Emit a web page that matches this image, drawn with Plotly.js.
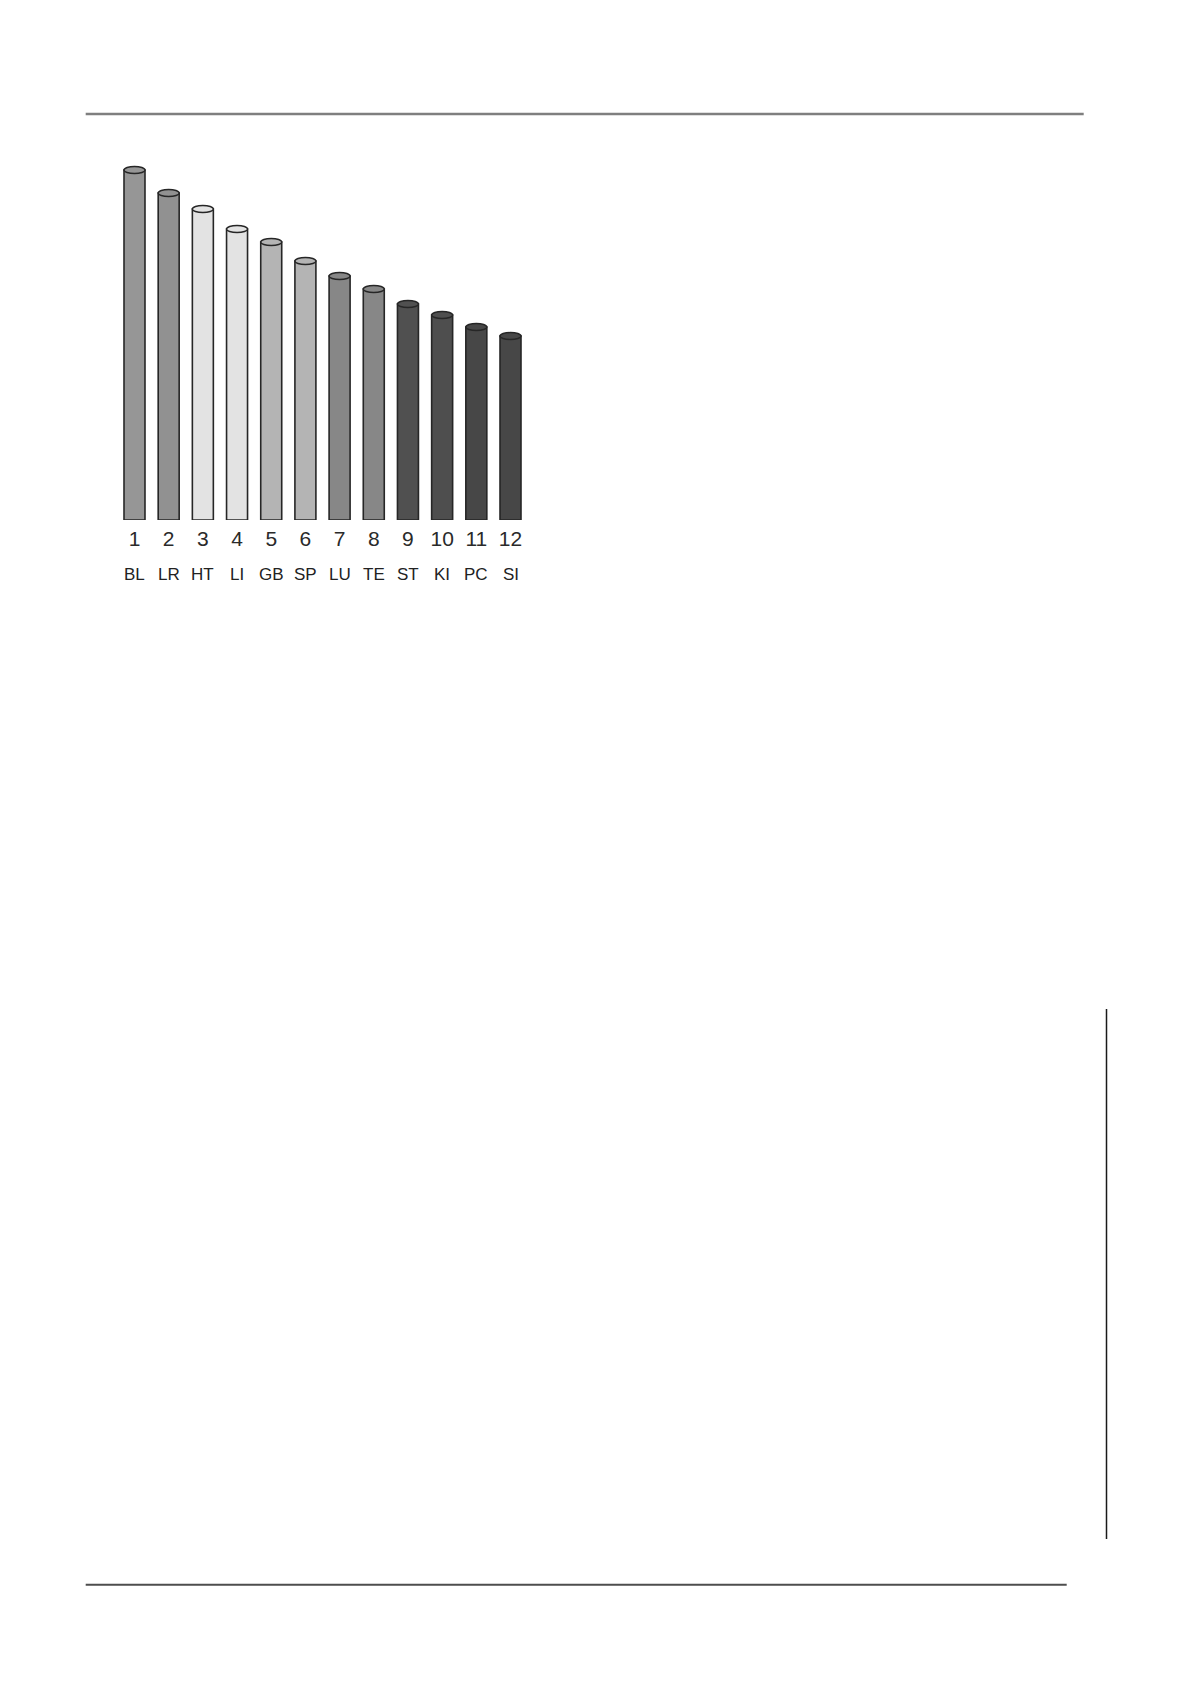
<!DOCTYPE html>
<html>
<head>
<meta charset="utf-8">
<script src="https://cdn.plot.ly/plotly-3.0.1.min.js"></script>
<style>html,body{margin:0;padding:0;background:#ffffff;}</style>
</head>
<body>
<div id="chart" style="width:1197px;height:1693px;"></div>
<script>
// ---- data ----
const ranks = [1, 2, 3, 4, 5, 6, 7, 8, 9, 10, 11, 12];
const rankLabels = ['1', '2', '3', '4', '5', '6', '7', '8', '9', '10', '11', '12'];
const codes = ['BL', 'LR', 'HT', 'LI', 'GB', 'SP', 'LU', 'TE', 'ST', 'KI', 'PC', 'SI'];
const values = [350, 327, 311, 291, 278, 259, 244, 231, 216, 205, 193, 184];

// ---- styles ----
const barColors = ['#969696', '#919191', '#e3e3e3', '#e3e3e3', '#b4b4b4', '#b4b4b4',
                   '#878787', '#878787', '#505050', '#4e4e4e', '#474747', '#474747'];
const W = 1197, H = 1693;
const px = x => x / W;
const py = y => 1 - y / H;
const barWidth = 0.614;
const capHalf = 3.5;
const outline = '#262626';
const fontFam = 'Liberation Sans, Arial, sans-serif';

const trace = {
  type: 'bar',
  x: ranks,
  y: values,
  width: barWidth,
  marker: { color: barColors, line: { color: outline, width: 1.6 } },
  hoverinfo: 'skip'
};

const shapes = [];
// cylinder tops
ranks.forEach((r, i) => {
  shapes.push({
    type: 'circle', xref: 'x', yref: 'y', layer: 'above',
    x0: r - barWidth / 2, x1: r + barWidth / 2,
    y0: values[i] - capHalf, y1: values[i] + capHalf,
    fillcolor: barColors[i], line: { color: outline, width: 1.4 }
  });
});
// page rules
shapes.push({ type: 'line', xref: 'paper', yref: 'paper', x0: px(85.7), x1: px(1083.7), y0: py(114), y1: py(114), line: { color: '#7f7f7f', width: 2.5 } });
shapes.push({ type: 'line', xref: 'paper', yref: 'paper', x0: px(85.7), x1: px(1066.7), y0: py(1584.7), y1: py(1584.7), line: { color: '#4d4d4d', width: 2 } });
shapes.push({ type: 'line', xref: 'paper', yref: 'paper', x0: px(1106.5), x1: px(1106.5), y0: py(1009), y1: py(1539), line: { color: '#1a1a1a', width: 1.5 } });

const annotations = codes.map((c, i) => ({
  x: ranks[i], xref: 'x', y: py(574), yref: 'paper',
  text: c, showarrow: false, xanchor: 'center', yanchor: 'middle',
  font: { family: fontFam, size: 17, color: '#222222' }
}));

const layout = {
  width: W, height: H,
  margin: { l: 0, r: 0, t: 0, b: 0 },
  paper_bgcolor: '#ffffff', plot_bgcolor: '#ffffff',
  showlegend: false,
  xaxis: {
    domain: [px(117.4), px(527.6)], range: [0.5, 12.5],
    tickmode: 'array', tickvals: ranks, ticktext: rankLabels,
    ticks: '', showgrid: false, zeroline: false, showline: false,
    ticklabelstandoff: 4,
    tickfont: { family: fontFam, size: 21, color: '#2a2a2a' },
    fixedrange: true
  },
  yaxis: {
    domain: [py(520), py(120)], range: [0, 400],
    visible: false, showgrid: false, zeroline: false, fixedrange: true
  },
  shapes: shapes,
  annotations: annotations
};

Plotly.newPlot('chart', [trace], layout, { staticPlot: true, displayModeBar: false });
</script>
</body>
</html>
